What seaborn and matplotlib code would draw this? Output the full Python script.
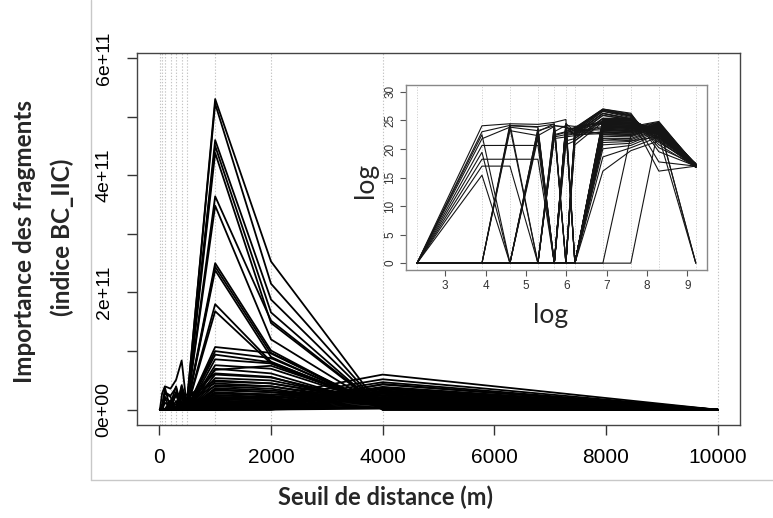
import numpy as np
import pandas as pd
import matplotlib
matplotlib.use("Agg")
import matplotlib.pyplot as plt
import seaborn as sns
from matplotlib.lines import Line2D

# ---------------- data (BC_IIC values, in units of 1e9) ----------------
distances = [10, 50, 100, 200, 300, 400, 500, 1000, 2000, 4000, 10000]
value_unit = 1e9

peak_fragments = [
    [0, 0, 0, 0, 0, 12, 18, 530, 253, 0.3, 0.024],
    [0, 0, 0, 0, 6, 10, 20, 522, 215, 0.6, 0.03],
    [0, 0, 0, 0, 0, 8, 14, 460, 188, 1.0, 0.02],
    [0, 0, 0, 0, 0, 0, 16, 450, 166, 0.05, 0.024],
    [0, 0, 0, 0, 5, 9, 12, 438, 148, 1.5, 0.035],
    [0, 0, 0, 0, 0, 7, 10, 364, 152, 2.0, 0.02],
    [0, 0, 0, 0, 0, 0, 9, 348, 120, 2.5, 0.03],
    [0, 0, 0, 0, 4, 6, 8, 250, 101, 0.01, 0.024],
    [0, 0, 0, 0, 0, 5, 7, 244, 96, 3.5, 0.04],
    [0, 0, 0, 0, 0, 0, 6, 238, 90, 4.0, 0.02],
    [0, 0, 0, 0, 3, 4, 5, 180, 82, 5.0, 0.03],
    [0, 0, 0, 0, 0, 0, 4, 168, 79, 6.0, 0.024],
]
mid_fragments = [
    [0, 0, 0, 0, 0, 0, 3, 107, 97, 5, 0.025],
    [0, 0, 0, 0, 0, 2, 3, 100, 88, 7, 0.03],
    [0, 0, 0, 0, 0, 0, 2, 94, 81, 8, 0.02],
    [0, 0, 0, 0, 0, 0, 0, 86, 79, 6, 0.035],
    [0, 0, 0, 0, 0, 0, 0, 76, 70, 9, 0.024],
    [0, 0, 0, 0, 0, 1, 2, 68, 75, 10, 0.03],
    [0, 0, 0, 0, 0, 0, 0, 60, 55, 11, 0.02],
    [0, 0, 0, 0, 0, 0, 1, 54, 50, 12, 0.025],
    [0, 0, 0, 0, 0, 0, 0, 48, 45, 13, 0.03],
    [0, 0, 0, 0, 0, 0, 0, 42, 40, 14, 0.024],
    [0, 0, 0, 0, 0, 0, 0, 37, 33, 15, 0.02],
    [0, 0, 0, 0, 0, 0, 0, 33, 30, 16, 0.035],
]
low_fragments = [
    [0, 0, 0, 0, 0, 0, 0, 28, 24, 60, 0.024],
    [0, 0, 0, 0, 0, 0, 0, 25, 20, 52, 0.03],
    [0, 0, 0, 0, 0, 0, 0, 22, 17, 47, 0.02],
    [0, 0, 0, 0, 0, 0, 0, 19, 14, 43, 0.025],
    [0, 0, 0, 0, 0, 0, 0, 16, 12, 39, 0.03],
    [0, 0, 0, 0, 0, 0, 0, 13, 10, 35, 0.024],
    [0, 0, 0, 0, 0, 0, 0, 10, 8, 31, 0.02],
    [0, 0, 0, 0, 0, 0, 0, 8, 6.5, 28, 0.035],
    [0, 0, 0, 0, 0, 0, 0, 6, 5, 25, 0.024],
    [0, 0, 0, 0, 0, 0, 0, 4.5, 4, 22, 0.03],
    [0, 0, 0, 0, 0, 0, 0, 3.2, 3, 19, 0.02],
    [0, 0, 0, 0, 0, 0, 0, 2.2, 2.4, 16, 0.025],
    [0, 0, 0, 0, 0, 0, 0, 1.5, 1.8, 13, 0.03],
    [0, 0, 0, 0, 0, 0, 0, 1.0, 1.3, 10, 0.024],
    [0, 0, 0, 0, 0, 0, 0, 0.5, 0.9, 7, 0.02],
    [0, 0, 0, 0, 0, 0, 0, 0.12, 0.6, 4, 0.03],
    [0, 0, 0, 0, 0, 0, 0, 0.01, 0.36, 2, 0.024],
]
early_fragments = [
    [0, 28, 40, 36, 51, 84, 0, 30, 26, 18, 0.024],
    [0, 9.8, 30, 24, 38, 0, 20, 62, 56, 3, 0.03],
    [0, 5.9, 0, 16, 0, 42, 10, 25, 22, 20, 0.02],
    [0, 2.9, 22, 12, 28, 24, 0, 12, 10, 30, 0.025],
    [0, 0.89, 0.9, 0.9, 0, 20, 15, 40, 36, 8, 0.035],
    [0, 0.27, 0, 5, 25, 0, 8, 20, 18, 12, 0.03],
    [0, 0.08, 0.08, 0.08, 0, 12, 0, 15, 12, 24, 0.02],
    [0, 0.024, 0.024, 0, 10, 30, 5, 10, 8, 36, 0],
    [0, 0.0049, 0, 3, 0, 15, 20, 6, 5, 33, 0],
]
zigzag_fragments = [
    [0, 0, 38, 0, 30, 0, 20, 50, 45, 15, 0.02],
    [0, 0, 28, 22, 0, 35, 0, 70, 62, 6, 0.025],
    [0, 0, 20, 0, 0, 30, 25, 45, 40, 9, 0.03],
    [0, 0, 0, 16, 0, 40, 0, 35, 30, 16, 0.02],
    [0, 0, 0, 10, 40, 0, 0, 28, 26, 20, 0.03],
    [0, 0, 0, 0, 30, 20, 0, 22, 20, 24, 0.025],
    [0, 0, 0, 0, 0, 32, 0, 18, 15, 27, 0.02],
    [0, 0, 0, 0, 15, 0, 12, 14, 12, 32, 0.035],
    [0, 0, 12, 5, 0, 0, 8, 9, 8, 38, 0.03],
    [0, 0, 0, 8, 0, 25, 6, 7, 6, 44, 0.02],
]
late_fragments = [
    [0, 0, 0, 0, 0, 0, 0, 0, 0, 30, 0.03],
    [0, 0, 0, 0, 0, 0, 0, 0, 5, 20, 0.025],
    [0, 0, 0, 0, 0, 0, 0, 3, 2, 4, 0],
]

main_xticks = [0, 2000, 4000, 6000, 8000, 10000]
main_yticks = [0, 1e11, 2e11, 3e11, 4e11, 5e11, 6e11]
main_ytick_labels = ["0e+00", "", "2e+11", "", "4e+11", "", "6e+11"]
inset_xticks = [3, 4, 5, 6, 7, 8, 9]
inset_yticks = [0, 5, 10, 15, 20, 25, 30]

# ---------------- long-form table ----------------
rows = []
fid = 0
for group in [peak_fragments, mid_fragments, low_fragments,
              early_fragments, zigzag_fragments, late_fragments]:
    for series in group:
        for d, v in zip(distances, series):
            rows.append({"fragment": fid, "distance": d, "bc": v * value_unit})
        fid += 1
df = pd.DataFrame(rows)
df["log_distance"] = np.log(df["distance"])
df["log_bc"] = np.log1p(df["bc"])

# ---------------- figure ----------------
sns.set_theme(style="white")
plt.rcParams["font.family"] = ["Liberation Sans", "DejaVu Sans"]

W, H = 773, 518
fig = plt.figure(figsize=(W / 100, H / 100), dpi=100)
fig.patch.set_facecolor("white")

def fx(px):
    return px / W

def fy(py):
    return 1 - py / H

# main axes
L, R, T, B = 137, 740, 52.7, 425
ax = fig.add_axes([fx(L), fy(B), fx(R - L), (B - T) / H])
for d in distances:
    ax.axvline(d, color="#c4c4c4", ls=(0, (1.2, 1.6)), lw=0.8, zorder=0)
sns.lineplot(data=df, x="distance", y="bc", units="fragment", estimator=None,
             color="black", lw=1.3, ax=ax, legend=False, sort=False, zorder=2)
ax.set_xlim(-400, 10400)
ax.set_ylim(-0.26e11, 6.09e11)
ax.set_xticks(main_xticks)
ax.set_xticklabels([str(t) for t in main_xticks], fontsize=15)
ax.set_yticks(main_yticks)
ax.set_yticklabels(main_ytick_labels, fontsize=14)
ax.tick_params(axis="both", direction="out", length=7.5, width=1.0,
               color="#333333", bottom=True, left=True, labelcolor="black")
ax.tick_params(axis="x", pad=9)
ax.tick_params(axis="y", pad=10)
for lab in ax.get_yticklabels():
    lab.set_rotation(90)
    lab.set_va("center")
ax.set_xlabel("")
ax.set_ylabel("")
for s in ax.spines.values():
    s.set_color("#444444")
    s.set_linewidth(1.0)

# axis titles
fig.text(fx(385), fy(497), "Seuil de distance (m)", ha="center", va="center",
         fontsize=17, fontweight="bold", family=["Lato", "DejaVu Sans"])
fig.text(fx(25), fy(241), "Importance des fragments", ha="center", va="center",
         rotation=90, fontsize=17.5, fontweight="bold", family=["Lato", "DejaVu Sans"])
fig.text(fx(62), fy(237), "(indice BC_IIC)", ha="center", va="center",
         rotation=90, fontsize=17.5, fontweight="bold", family=["Lato", "DejaVu Sans"])

# inset axes
iL, iR, iT, iB = 406, 706.7, 85, 270
axi = fig.add_axes([fx(iL), fy(iB), fx(iR - iL), (iB - iT) / H])
axi.set_facecolor("white")
for d in distances:
    axi.axvline(np.log(d), color="#d0d0d0", ls=(0, (1.2, 1.6)), lw=0.7, zorder=0)
sns.lineplot(data=df, x="log_distance", y="log_bc", units="fragment", estimator=None,
             color="#151515", lw=0.8, ax=axi, legend=False, sort=False, zorder=2)
axi.set_xlim(2.03, 9.48)
axi.set_ylim(-1.2, 31.2)
axi.set_xticks(inset_xticks)
axi.set_xticklabels([str(t) for t in inset_xticks], fontsize=8.5)
axi.set_yticks(inset_yticks)
axi.set_yticklabels([str(t) for t in inset_yticks], fontsize=8.5)
axi.tick_params(axis="both", direction="out", length=4, width=0.8,
                color="#555555", bottom=True, left=True, labelcolor="#333333", pad=3)
for lab in axi.get_yticklabels():
    lab.set_rotation(90)
    lab.set_va("center")
axi.set_xlabel("")
axi.set_ylabel("")
for s in axi.spines.values():
    s.set_color("#888888")
    s.set_linewidth(1.0)
fig.text(fx(551), fy(315), "log", ha="center", va="center", fontsize=19,
         family=["Lato", "DejaVu Sans"])
fig.text(fx(365), fy(180), "log", ha="center", va="center", fontsize=19,
         rotation=90, family=["Lato", "DejaVu Sans"])

# light frame lines of the pasted figure
fig.add_artist(Line2D([fx(91), fx(91)], [1, fy(480)], color="#c8c8c8", lw=1.0,
                      transform=fig.transFigure))
fig.add_artist(Line2D([fx(91), 1], [fy(480), fy(480)], color="#c8c8c8", lw=1.0,
                      transform=fig.transFigure))

fig.savefig("out.png", dpi=100, facecolor="white")
